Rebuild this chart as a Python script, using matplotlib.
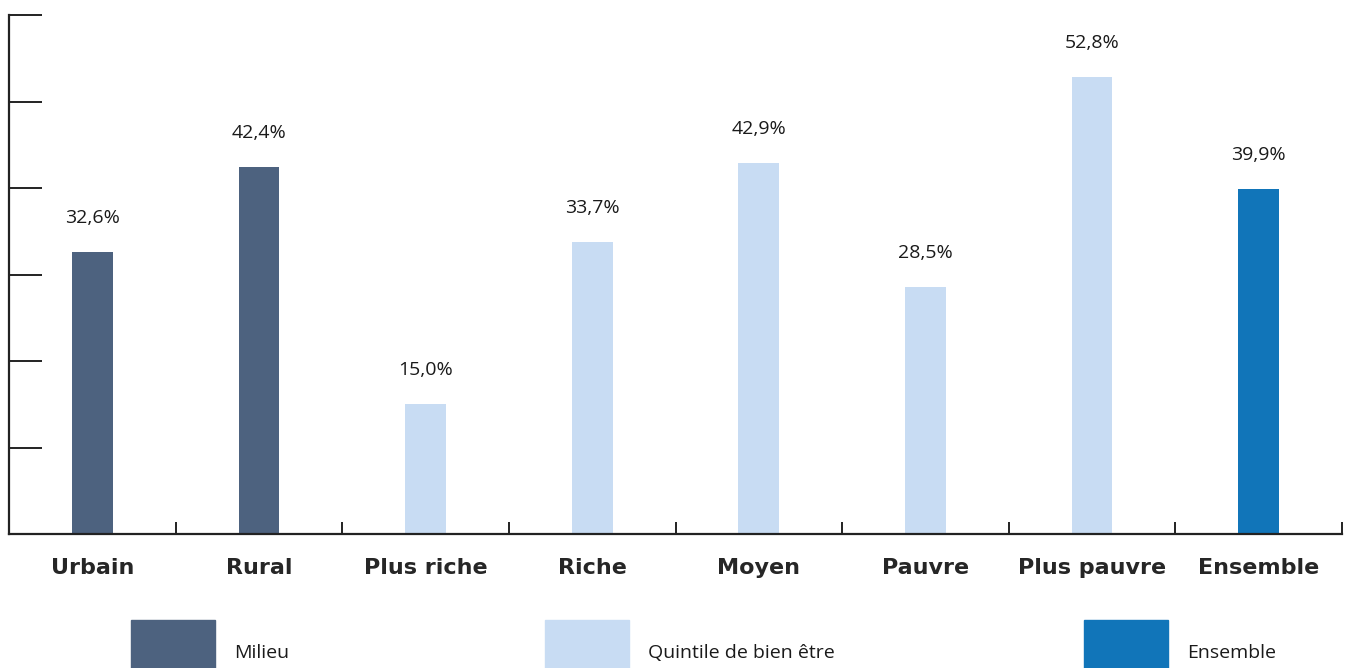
import matplotlib
matplotlib.use("Agg")
import matplotlib.pyplot as plt
from matplotlib.patches import Rectangle

categories = ["Urbain", "Rural", "Plus riche", "Riche", "Moyen", "Pauvre", "Plus pauvre", "Ensemble"]
values = [32.6, 42.4, 15.0, 33.7, 42.9, 28.5, 52.8, 39.9]
groups = ["Milieu", "Milieu", "Quintile de bien être", "Quintile de bien être",
          "Quintile de bien être", "Quintile de bien être", "Quintile de bien être", "Ensemble"]
group_names = ["Milieu", "Quintile de bien être", "Ensemble"]
group_colors = {"Milieu": "#4d627f", "Quintile de bien être": "#c8dcf3", "Ensemble": "#1175b9"}

W, H = 1347, 668
fig = plt.figure(figsize=(W / 100, H / 100), dpi=100)
ax = fig.add_axes([9 / W, (H - 534) / H, (1342 - 9) / W, (534 - 15) / H])

x = list(range(len(categories)))
ax.bar(x, values, width=0.245, color=[group_colors[g] for g in groups], zorder=2)

for xi, v in zip(x, values):
    ax.annotate(f"{v:.1f}%".replace(".", ","), (xi, v), xytext=(0, 34),
                textcoords="offset pixels", ha="center", va="center",
                fontsize=14, family="Open Sans", color="#1a1a1a")

ax.set_xlim(-0.5, len(categories) - 0.5)
ax.set_ylim(0, 60)
ax.set_yticks(range(0, 61, 10))
ax.set_yticklabels([])
ax.tick_params(axis="y", direction="in", length=23.5, width=1.4, color="#222222")

ax.set_xticks(x)
ax.set_xticklabels(categories, fontsize=16, family="DejaVu Sans", fontweight="bold",
                   color="#262626")
ax.tick_params(axis="x", which="major", length=0, pad=17)
ax.set_xticks([i + 0.5 for i in x], minor=True)
ax.tick_params(axis="x", which="minor", direction="in", length=8.5, width=1.4, color="#222222")

for side in ("top", "right"):
    ax.spines[side].set_visible(False)
for side in ("left", "bottom"):
    ax.spines[side].set_linewidth(1.6)
    ax.spines[side].set_color("#222222")

# legend row along the bottom edge
legend_x = [131, 545, 1084]
for gx, name in zip(legend_x, group_names):
    fig.add_artist(Rectangle((gx / W, 0), 84 / W, (H - 620) / H,
                             transform=fig.transFigure, color=group_colors[name]))
    fig.text((gx + 103) / W, (H - 653) / H, name, fontsize=14, family="Open Sans",
             va="center", ha="left", color="#1a1a1a")

fig.savefig("out.png", dpi=100)
